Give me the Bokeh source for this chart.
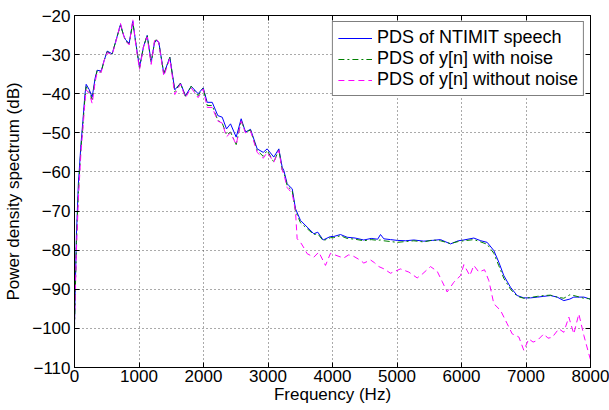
from bokeh.plotting import figure
from bokeh.models import LinearAxis, FixedTicker, Range1d, Legend, LegendItem
from bokeh.embed import file_html
from bokeh.resources import INLINE

# ---------------- data ----------------
blue_f = [0, 30, 60, 100, 130, 160, 181, 230, 274, 320, 352, 414, 460, 507, 584, 650, 713, 760, 791, 848,
          904, 950, 1008, 1070, 1127, 1189, 1240, 1267, 1307, 1385, 1478, 1555, 1643, 1721, 1809, 1917, 1995,
          2057, 2135, 2222, 2290, 2357, 2419, 2507, 2584, 2651, 2729, 2832, 2926, 2987, 3090, 3168, 3220, 3245,
          3297, 3323, 3375, 3426, 3504, 3607, 3710, 3772, 3855, 3969, 4020, 4124, 4227, 4350, 4485, 4600, 4700,
          4744, 4796, 4900, 5003, 5130, 5261, 5416, 5550, 5674, 5829, 5950, 6036, 6191, 6300, 6398, 6501, 6579,
          6656, 6760, 6863, 6966, 7070, 7180, 7277, 7380, 7483, 7586, 7680, 7741, 7897, 7974, 8000]
blue_db = [-99, -76, -63, -53, -47, -40.5, -37.6, -39, -40.9, -36, -34, -34.2, -31.5, -29.1, -29.8, -26, -22.3, -25,
           -26.2, -27.1, -21.5, -27, -33.2, -28, -25.1, -31.9, -27, -26.4, -26.8, -34.9, -30.7, -39.0, -37.3, -40.5,
           -38.1, -40.0, -38.5, -42.2, -42.2, -45.6, -46.0, -49.0, -47.7, -51.1, -46.4, -49.8, -49.1, -54.1, -55.0,
           -54.1, -56.2, -54.1, -58.8, -59.6, -63.0, -63.5, -64.3, -69.4, -72.4, -74.1, -75.8, -75.4, -77.4, -76.5,
           -76.5, -76.0, -76.7, -76.9, -77.4, -77.0, -77.2, -76.0, -77.1, -77.3, -77.5, -77.6, -77.4, -77.7, -77.5,
           -77.3, -78.4, -77.6, -77.4, -76.9, -77.6, -78.0, -80.1, -83.1, -86.5, -89.5, -91.6, -92.2, -92.2, -92.0,
           -91.8, -91.6, -92.0, -92.9, -92.5, -92.0, -92.0, -92.4, -92.5]

green_f = blue_f
green_db = [-100, -78, -65, -54, -48, -41.5, -38.2, -39.5, -41.5, -36.5, -34, -34.5, -31.5, -29.3, -29.8, -26, -22.5,
            -25, -26.5, -27.3, -21.8, -27, -33.5, -28, -25.0, -32.2, -26.8, -26.2, -27.0, -35.0, -30.7, -39.5, -37.3,
            -40.8, -38.1, -40.5, -38.5, -43.0, -43.0, -46.8, -47.5, -50.5, -49.8, -53.0, -46.8, -49.8, -49.3, -54.5,
            -56.0, -54.5, -57.5, -54.3, -59.5, -60.0, -63.5, -64.0, -64.8, -70.0, -73.0, -74.5, -76.0, -75.8, -77.6,
            -76.8, -76.8, -76.3, -77.0, -77.2, -77.6, -77.3, -77.5, -77.4, -77.6, -77.8, -78.0, -77.8, -77.6, -77.9,
            -77.4, -77.6, -78.3, -77.8, -77.6, -77.3, -77.9, -78.5, -80.8, -84.0, -87.2, -90.0, -91.8, -92.3, -92.1,
            -91.8, -91.6, -91.5, -92.0, -92.3, -91.4, -91.6, -92.3, -92.4, -92.6]

magenta_f = [0, 30, 60, 100, 130, 160, 181, 230, 274, 320, 352, 414, 460, 507, 584, 650, 713, 760, 791, 848,
             904, 950, 1008, 1070, 1127, 1189, 1240, 1267, 1307, 1385, 1478, 1555, 1643, 1721, 1809, 1917, 1995,
             2057, 2135, 2222, 2290, 2357, 2419, 2507, 2584, 2651, 2729, 2832, 2926, 2987, 3090, 3168, 3220, 3245,
             3297, 3323, 3375, 3426, 3452, 3504, 3560, 3607, 3710, 3788, 3891, 3969, 4020, 4100, 4175, 4250, 4331,
             4434, 4485, 4589, 4650, 4718, 4800, 4899, 5054, 5183, 5313, 5400, 5519, 5623, 5700, 5778, 5881, 5985,
             6036, 6129, 6191, 6269, 6357, 6424, 6501, 6605, 6708, 6786, 6889, 6966, 7044, 7110, 7174, 7277, 7340,
             7406, 7509, 7586, 7664, 7741, 7819, 7897, 7974, 8000]
magenta_db = [-98, -80, -67, -55, -49, -42.5, -39, -40, -42.5, -37, -34.5, -34.5, -31.5, -29.5, -30, -26.2, -22.0,
              -25, -26.5, -27.5, -21.0, -27.5, -33.8, -28, -25.5, -32.5, -26.5, -25.8, -27.0, -35.5, -31.0, -40.2,
              -37.5, -41.0, -38.5, -41.0, -38.8, -43.5, -43.5, -47.0, -47.5, -51.0, -50.0, -53.0, -47.0, -50.0,
              -49.5, -55.0, -56.5, -55.0, -57.5, -54.5, -59.5, -60.5, -64.0, -64.5, -65.5, -70.0, -77.1, -78.0,
              -79.5, -80.9, -81.8, -80.5, -83.9, -80.8, -81.1, -81.6, -82.0, -81.2, -81.6, -82.6, -83.3, -82.5,
              -83.2, -84.2, -84.8, -85.9, -84.8, -85.6, -87.1, -86.0, -84.2, -85.4, -88.0, -90.7, -88.2, -86.5,
              -83.7, -86.5, -83.9, -85.6, -85.0, -87.8, -93.7, -95.4, -98.8, -101.4, -102.2, -105.6, -102.7, -103.5,
              -103.1, -101.4, -102.5, -102.3, -100.1, -101.0, -97.1, -101.4, -96.3, -101.8, -106.5, -108.0]

x_ticks = [0, 1000, 2000, 3000, 4000, 5000, 6000, 7000, 8000]
y_ticks = [-110, -100, -90, -80, -70, -60, -50, -40, -30, -20]
series_labels = ["PDS of NTIMIT speech", "PDS of y[n] with noise", "PDS of y[n] without noise"]

FONT = "Liberation Sans"

p = figure(width=609, height=410, output_backend="svg", toolbar_location=None,
           x_range=Range1d(0, 8000), y_range=Range1d(-110, -20),
           min_border_left=74, min_border_right=19, min_border_top=15, min_border_bottom=43)
p.background_fill_color = "white"
p.border_fill_color = "white"
p.outline_line_color = "black"
p.outline_line_width = 1

r_blue = p.line(blue_f, blue_db, line_color="#0000FF", line_width=1)
r_green = p.line(green_f, green_db, line_color="#008000", line_width=1, line_dash="6 3 2 3")
r_mag = p.line(magenta_f, magenta_db, line_color="#FF00FF", line_width=1, line_dash="6 4")

def style_axis(ax, ticks, labels=True):
    ax.ticker = FixedTicker(ticks=ticks)
    ax.major_tick_in = 5
    ax.major_tick_out = 0
    ax.minor_tick_line_color = None
    ax.axis_line_color = "black"
    ax.major_tick_line_color = "black"
    ax.major_label_text_font = FONT
    ax.major_label_text_font_size = "17px"
    ax.major_label_text_color = "black" if labels else None
    ax.axis_label_text_font = FONT
    ax.axis_label_text_font_size = "17px"
    ax.axis_label_text_font_style = "normal"
    ax.axis_label_text_color = "black"

xa = p.xaxis[0]
ya = p.yaxis[0]
style_axis(xa, x_ticks)
style_axis(ya, y_ticks)
xa.axis_label = "Frequency (Hz)"
ya.axis_label = "Power density spectrum (dB)"
xa.major_label_standoff = 2
ya.major_label_standoff = 4
xa.axis_label_standoff = 0
ya.axis_label_standoff = 6
ya.major_label_overrides = {v: ("\u2212" + str(-v)) if v < 0 else str(v) for v in y_ticks}

top = LinearAxis()
right = LinearAxis()
style_axis(top, x_ticks, labels=False)
style_axis(right, y_ticks, labels=False)
top.major_label_standoff = 0
right.major_label_standoff = 0
p.add_layout(top, "above")
p.add_layout(right, "right")

p.xgrid.ticker = FixedTicker(ticks=x_ticks)
p.ygrid.ticker = FixedTicker(ticks=y_ticks)
for g in (p.xgrid, p.ygrid):
    g.grid_line_color = "#555555"
    g.grid_line_dash = "1 3"
    g.grid_line_width = 1

legend = Legend(items=[LegendItem(label=series_labels[0], renderers=[r_blue]),
                       LegendItem(label=series_labels[1], renderers=[r_green]),
                       LegendItem(label=series_labels[2], renderers=[r_mag])],
                location="top_right")
legend.label_text_font = FONT
legend.label_text_font_size = "18px"
legend.label_text_color = "black"
legend.border_line_color = "black"
legend.border_line_width = 1
legend.background_fill_color = "white"
legend.background_fill_alpha = 1
legend.glyph_width = 34
legend.glyph_height = 20
legend.label_height = 20
legend.label_width = 199
legend.label_standoff = 5
legend.spacing = 0
legend.padding = 5
legend.margin = 6
p.add_layout(legend)

open("out.html", "w").write(file_html(p, INLINE))
